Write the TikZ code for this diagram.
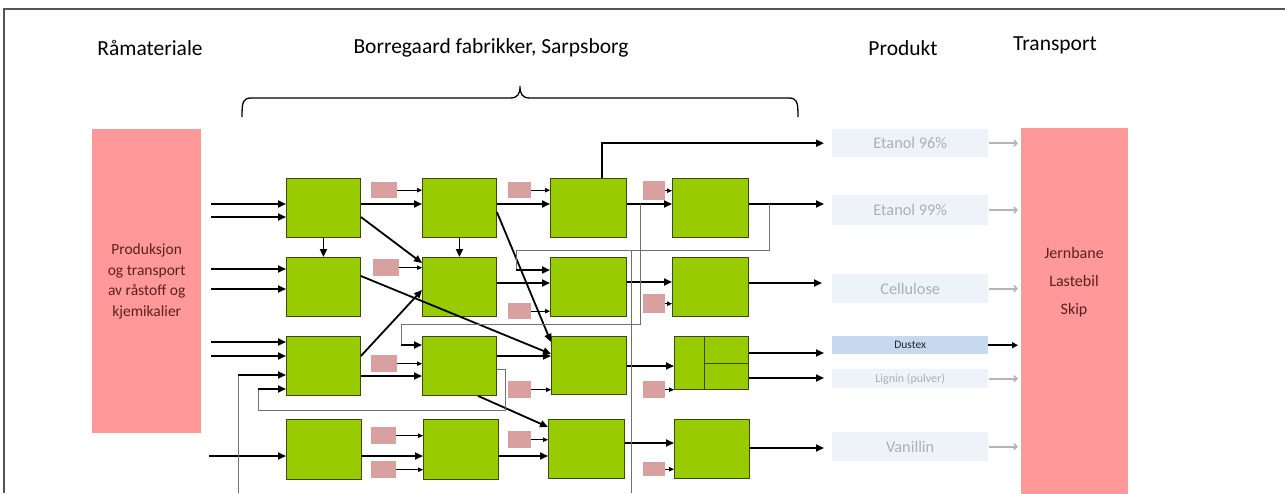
\documentclass[tikz,border=0pt]{standalone}
\usepackage{fontspec}
\setmainfont{Carlito}
\usetikzlibrary{arrows.meta}
\definecolor{gfill}{HTML}{99CC00}
\definecolor{gdraw}{HTML}{3B4A10}
\definecolor{bigpink}{HTML}{FF9999}
\definecolor{smallpink}{HTML}{D9A0A0}
\definecolor{prodfill}{HTML}{EEF2F9}
\definecolor{prodtext}{HTML}{ABAFB6}
\definecolor{dustexfill}{HTML}{C6D9EE}
\definecolor{pinktext}{HTML}{5C1F1F}
\definecolor{framecol}{HTML}{555555}
\definecolor{loopcol}{HTML}{707070}
\definecolor{grayarr}{HTML}{B5B5B5}
\begin{document}
\begin{tikzpicture}[x=1pt,y=-1pt,
  gbox/.style={draw=gdraw,fill=gfill,line width=0.9pt,inner sep=0pt,anchor=north west},
  spink/.style={fill=smallpink,draw=none,inner sep=0pt,anchor=north west},
  prodbox/.style={fill=prodfill,draw=none,inner sep=0pt,anchor=north west,minimum width=156pt,text=prodtext},
  bigbox/.style={fill=bigpink,draw=none,inner sep=0pt,anchor=north west},
  hdr/.style={font=\fontsize{21.5}{25}\selectfont,inner sep=0pt},
  arr/.style={line width=1.8pt,-{Triangle[length=8pt,width=7pt]}},
  sarr/.style={line width=0.9pt,-{Triangle[length=5pt,width=4.5pt]}},
  thin/.style={line width=1pt,draw=loopcol},
  garr/.style={line width=1.6pt,draw=grayarr,-{Straight Barb[length=3pt,width=6pt]}}
]
\useasboundingbox (0,0) rectangle (1285,493);
\fill[white] (0,0) rectangle (1285,493);
% frame
\draw[framecol,line width=2pt] (4,493) -- (4,9) -- (1285,9);

% headers
\node[hdr] (h1) at (150,48) {Råmateriale};
\node[hdr] (h2) at (491,48) {Borregaard fabrikker, Sarpsborg};
\node[hdr] (h3) at (903,48) {Produkt};
\node[hdr] (h4) at (1055,45) {Transport};

% brace
\draw[line width=1.3pt] (242,117) .. controls (242,101) and (243,98) .. (252,98) -- (510,98)
  .. controls (518,98) and (520,94) .. (520,86)
  .. controls (520,94) and (522,98) .. (530,98) -- (788,98)
  .. controls (797,98) and (798,101) .. (798,117);

% big pink boxes
\node[bigbox,minimum width=109pt,minimum height=304pt] (src) at (92,129) {};
\node[text=pinktext,align=center,font=\fontsize{15.5}{20.5}\selectfont] (srct) at (src.center) {Produksjon\\og transport\\av råstoff og\\kjemikalier};
\node[bigbox,minimum width=107pt,minimum height=366pt] (tr) at (1021,128) {};
\node[text=pinktext,align=center,font=\fontsize{16}{28}\selectfont] (trt) at (1074,282) {Jernbane\\Lastebil\\Skip};

% green boxes
\node[gbox,minimum width=74pt,minimum height=59pt] (a1) at (286,178) {};
\node[gbox,minimum width=74pt,minimum height=59pt] (b1) at (286,257) {};
\node[gbox,minimum width=74pt,minimum height=59pt] (c1) at (286,336) {};
\node[gbox,minimum width=75pt,minimum height=60pt] (d1) at (286,419) {};
\node[gbox,minimum width=74pt,minimum height=59pt] (a2) at (422,178) {};
\node[gbox,minimum width=74pt,minimum height=59pt] (b2) at (422,257) {};
\node[gbox,minimum width=74pt,minimum height=59pt] (c2) at (422,336) {};
\node[gbox,minimum width=75pt,minimum height=60pt] (d2) at (423,419) {};
\node[gbox,minimum width=76pt,minimum height=59pt] (a3) at (550,178) {};
\node[gbox,minimum width=76pt,minimum height=59pt] (b3) at (550,257) {};
\node[gbox,minimum width=75pt,minimum height=58pt] (c3) at (551,336) {};
\node[gbox,minimum width=76pt,minimum height=59pt] (d3) at (548,419) {};
\node[gbox,minimum width=76pt,minimum height=59pt] (a4) at (672,178) {};
\node[gbox,minimum width=76pt,minimum height=59pt] (b4) at (672,257) {};
\node[gbox,minimum width=74pt,minimum height=53pt] (c4) at (674,336) {};
\node[gbox,minimum width=75pt,minimum height=59pt] (d4) at (674,419) {};
\draw[gdraw,line width=0.9pt] (704,336) -- (704,389);
\draw[gdraw,line width=0.9pt] (704,363) -- (748,363);

% small pink boxes
\node[spink,minimum width=26pt,minimum height=16pt] (p1a) at (371,182) {};
\node[spink,minimum width=26pt,minimum height=17pt] (p1b) at (373,259) {};
\node[spink,minimum width=26pt,minimum height=17pt] (p1c) at (371,355) {};
\node[spink,minimum width=25pt,minimum height=17pt] (p1d) at (371,427) {};
\node[spink,minimum width=25pt,minimum height=17pt] (p1e) at (371,461) {};
\node[spink,minimum width=23pt,minimum height=16pt] (p2a) at (508,182) {};
\node[spink,minimum width=23pt,minimum height=16pt] (p2b) at (508,303) {};
\node[spink,minimum width=23pt,minimum height=17pt] (p2c) at (508,381) {};
\node[spink,minimum width=23pt,minimum height=17pt] (p2d) at (508,431) {};
\node[spink,minimum width=22pt,minimum height=19pt] (p3a) at (643,181) {};
\node[spink,minimum width=22pt,minimum height=19pt] (p3b) at (643,294) {};
\node[spink,minimum width=22pt,minimum height=17pt] (p3c) at (643,381) {};
\node[spink,minimum width=22pt,minimum height=14pt] (p3d) at (643,462) {};
\foreach \p/\t in {p1a/a2,p1b/b2,p1c/c2,p1d/d2,p1e/d2,p2a/a3,p2b/b3,p2c/c3,p2d/d3,p3a/a4,p3b/b4,p3c/c4,p3d/d4}
  \draw[sarr] (\p.east) -- (\p.east -| \t.west);

% product boxes
\node[prodbox,minimum height=28pt,font=\fontsize{16.3}{19}\selectfont] (e96) at (832,129) {Etanol 96\%};
\node[prodbox,minimum height=30pt,font=\fontsize{16.3}{19}\selectfont] (e99) at (832,195) {Etanol 99\%};
\node[prodbox,minimum height=29pt,font=\fontsize{16.3}{19}\selectfont] (cel) at (832,274) {Cellulose};
\node[prodbox,minimum height=18pt,fill=dustexfill,text=black!85,font=\fontsize{11.5}{14}\selectfont] (dus) at (832,336) {Dustex};
\node[prodbox,minimum height=19pt,font=\fontsize{12}{14}\selectfont] (lig) at (832,369) {Lignin (pulver)};
\node[prodbox,minimum height=29pt,font=\fontsize{16.3}{19}\selectfont] (van) at (832,432) {Vanillin};
\foreach \p in {e96,e99,cel,lig,van}
  \draw[garr,shorten <=1pt,shorten >=3pt] (\p.east) -- (\p.east -| tr.west);
\draw[line width=2pt,-{Triangle[length=6pt,width=6pt]},shorten >=3pt] (dus.east) -- (dus.east -| tr.west);

% free ends
\coordinate (i1) at (211,204);
\coordinate (i2) at (211,217);
\coordinate (i3) at (211,269);
\coordinate (i4) at (211,289);
\coordinate (i5) at (211,342);
\coordinate (i6) at (211,356);
\coordinate (i7) at (209,456);
\coordinate (bot1) at (238,493);
\coordinate (bot2) at (631,493);

% inputs
\foreach \i/\t in {i1/a1,i2/a1,i3/b1,i4/b1,i5/c1,i6/c1,i7/d1}
  \draw[arr] (\i) -- (\i -| \t.west);

% column 1 outputs
\draw[arr] (a1.east |- 0,204) -- (a2.west |- 0,204);
\draw[arr] (a1.east |- 0,217) -- (b2.west |- 0,263);
\draw[arr] (a1.south) -- (b1.north);
\draw[arr] (b1.east |- 0,276) -- (c3.west |- 0,354);
\draw[arr] (c1.east |- 0,356) -- (b2.west |- 0,290);
\draw[arr] (c1.east |- 0,376) -- (c2.west |- 0,376);
\draw[arr] (d1.east |- 0,456) -- (d2.west |- 0,456);

% column 2 outputs
\draw[arr] (a2.south) -- (b2.north);
\draw[arr] (a2.east |- 0,212) -- (c3.west |- 0,342);
\draw[arr] (a2.east |- 0,204) -- (a3.west |- 0,204);
\draw[arr] (b2.east |- 0,283) -- (b3.west |- 0,283);
\draw[arr] (c2.east |- 0,356) -- (c3.west |- 0,356);
\draw[arr] (c2.south -| 478,0) -- (d3.west |- 0,427);
\draw[arr] (d2.east |- 0,456) -- (d3.west |- 0,456);

% column 3 outputs
\draw[arr,shorten >=8pt] (a3.north -| 602,0) |- (e96.west);
\draw[arr] (a3.east |- 0,204) -- (a4.west |- 0,204);
\draw[arr] (b3.east |- 0,282) -- (b4.west |- 0,282);
\draw[arr] (c3.east |- 0,366) -- (c4.west |- 0,366);
\draw[arr] (d3.east |- 0,443) -- (d4.west |- 0,443);

% column 4 outputs
\draw[arr,shorten >=8pt] (a4.east |- 0,204) -- (e99.west |- 0,204);
\draw[arr,shorten >=10pt] (b4.east |- 0,283) -- (cel.west |- 0,283);
\draw[arr,shorten >=8pt] (c4.east |- 0,353) -- (dus.west |- 0,353);
\draw[arr,shorten >=8pt] (c4.east |- 0,378) -- (lig.west |- 0,378);
\draw[arr,shorten >=8pt] (d4.east |- 0,448) -- (van.west |- 0,448);

% recycle / feedback lines
\draw[thin] (769,204) -- (769,250) -- (516,250) -- (516,270);
\draw[arr] (516,270) -- (b3.west |- 0,270);
\draw[thin] (631,250) -- (bot2);
\draw[thin] (640,204) -- (640,324) -- (401,324) -- (401,345);
\draw[arr] (401,345) -- (c2.west |- 0,345);
\draw[thin] (bot1) -- (238,375);
\draw[arr] (238,375) -- (c1.west |- 0,375);
\draw[thin] (c2.east |- 0,369) -- (505,369) -- (505,410) -- (258,410) -- (258,389);
\draw[arr] (258,389) -- (c1.west |- 0,389);
\end{tikzpicture}
\end{document}
